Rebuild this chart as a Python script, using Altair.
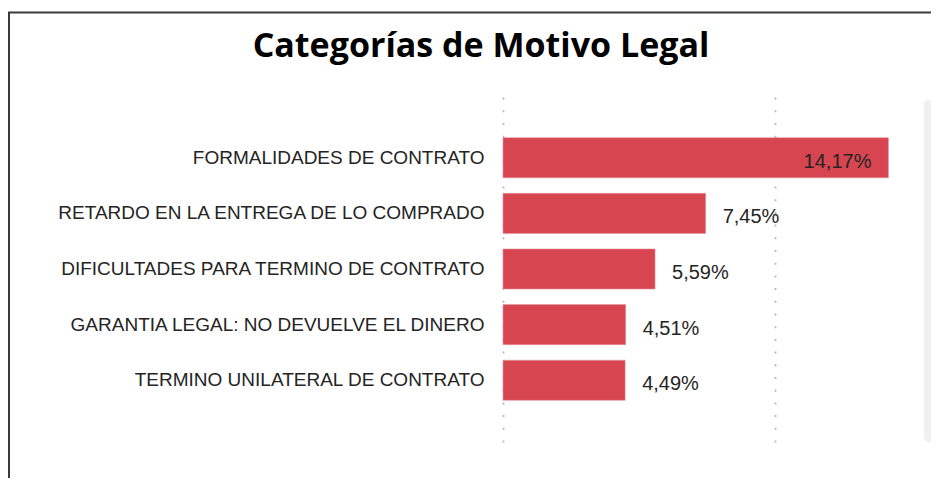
import altair as alt
import pandas as pd

title_text = ["Categorías de Motivo Legal"]
categories = [
    "FORMALIDADES DE CONTRATO",
    "RETARDO EN LA ENTREGA DE LO COMPRADO",
    "DIFICULTADES PARA TERMINO DE CONTRATO",
    "GARANTIA LEGAL: NO DEVUELVE EL DINERO",
    "TERMINO UNILATERAL DE CONTRATO",
]
values = [14.17, 7.45, 5.59, 4.51, 4.49]
value_labels = ["14,17%", "7,45%", "5,59%", "4,51%", "4,49%"]
grid_ticks = [0, 10]

df = pd.DataFrame({"cat": categories, "val": values, "lbl": value_labels})
one = pd.DataFrame({"k": [0]})
title_df = pd.DataFrame({"t": title_text})

W, H = 408, 346
LABEL_FONT = "Liberation Sans"
TITLE_FONT = "Open Sans"

y_enc = alt.Y(
    "cat:N", sort=categories, title=None,
    scale=alt.Scale(paddingInner=0.28, paddingOuter=0.75),
    axis=alt.Axis(labelFont=LABEL_FONT, labelFontSize=19, labelColor="#252423",
                  labelPadding=19, ticks=False, domain=False, labelLimit=600),
)
x_enc = alt.X(
    "val:Q", title=None,
    scale=alt.Scale(domain=[0, 15], nice=False, zero=True),
    axis=alt.Axis(values=grid_ticks, labels=False, ticks=False, domain=False,
                  grid=True, gridDash=[2, 10.7], gridColor="#b5b5b5", gridWidth=1.8),
)

base = alt.Chart(df)
bars = base.mark_bar(color="#D64550", stroke="#E8939A", strokeWidth=0.6).encode(x=x_enc, y=y_enc)

inside = base.transform_filter("datum.val >= 10").mark_text(
    align="right", baseline="middle", dx=-17, dy=4, font=LABEL_FONT, fontSize=20, color="#252423"
).encode(x="val:Q", y=alt.Y("cat:N", sort=categories), text="lbl:N")

outside = base.transform_filter("datum.val < 10").mark_text(
    align="left", baseline="middle", dx=17, dy=4, font=LABEL_FONT, fontSize=20, color="#252423"
).encode(x="val:Q", y=alt.Y("cat:N", sort=categories), text="lbl:N")

frame = alt.Chart(one).mark_rect(fill="transparent", stroke="#3a3a3a", strokeWidth=2).encode(
    x=alt.value(-494), x2=alt.value(700), y=alt.value(-83.5), y2=alt.value(600)
)

scrollbar = alt.Chart(one).mark_rect(fill="#f0f0f0", cornerRadius=4).encode(
    x=alt.value(421), x2=alt.value(440), y=alt.value(4), y2=alt.value(346)
)

title = alt.Chart(title_df).mark_text(
    align="center", baseline="alphabetic", font=TITLE_FONT, fontSize=34,
    fontWeight="bold", color="#000000"
).encode(x=alt.value(-22), y=alt.value(-39.5), text="t:N")

chart = alt.layer(frame, scrollbar, bars, inside, outside, title).properties(
    width=W, height=H,
    background="white",
    autosize=alt.AutoSizeParams(type="none"),
    padding={"left": 495, "top": 88, "right": 20, "bottom": 36},
).configure_view(strokeWidth=0, stroke="transparent")

chart.save("out.html", embed_options={"renderer": "svg", "actions": False})
